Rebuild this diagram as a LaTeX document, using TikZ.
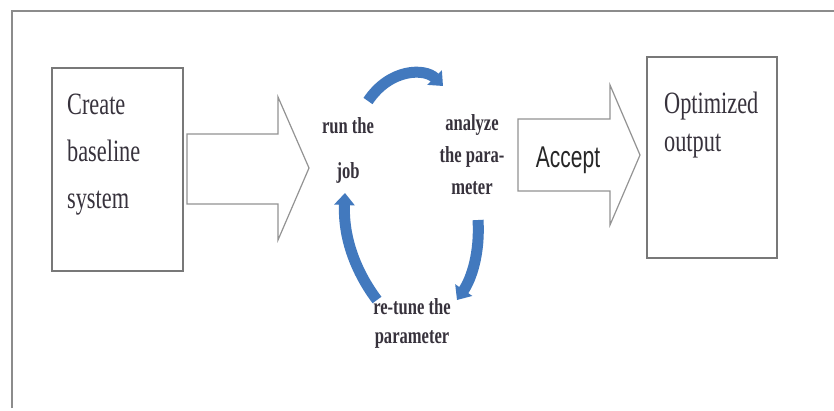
\documentclass[tikz,border=0pt]{standalone}
\usepackage{fontspec}
\setmainfont{Liberation Serif}
\newfontfamily\accfont{Liberation Sans}
\usetikzlibrary{arrows.meta}
\definecolor{framegray}{RGB}{140,140,140}
\definecolor{boxgray}{RGB}{120,120,120}
\definecolor{txtgray}{RGB}{55,50,60}
\definecolor{cycblue}{RGB}{66,121,190}
\tikzset{
  box/.style={draw=boxgray, line width=1.8pt, fill=white},
  hollowarrow/.style={draw=boxgray!80, line width=1.2pt, fill=white, line join=miter},
  bigtxt/.style={text=txtgray, font=\fontsize{31}{45}\selectfont, xscale=0.72, align=left, inner sep=0pt, anchor=north west},
  cyctxt/.style={text=txtgray, font=\fontsize{23}{32}\selectfont\bfseries, xscale=0.72, align=center, inner sep=0pt},
  cycarrow/.style={draw=cycblue, line width=11pt, -{Triangle[width=20pt,length=12pt]}}
}
\begin{document}
\begin{tikzpicture}[x=1pt,y=-1pt]
\useasboundingbox (0,0) rectangle (834,410);
\fill[white] (0,0) rectangle (834,410);
% outer frame
\draw[framegray, line width=2pt] (12,408) -- (12,11) -- (836,11);
% left box
\draw[box] (52,68) rectangle (183,271);
\node[bigtxt] (create) at (67,94) {Create\\[2pt]baseline\\[2pt]system};
% big hollow arrow
\draw[hollowarrow] (187,134) -- (278,134) -- (278,97) -- (309,168) -- (278,240) -- (278,204) -- (187,204) -- cycle;
% cycle texts
\node[cyctxt] (run) at (348,150) {run the\\[13pt]job};
\node[cyctxt] (analyze) at (472,155) {analyze\\[0pt]the para-\\[0pt]meter};
\node[cyctxt] (retune) at (412,323) {re-tune the\\[-3pt]parameter};
% cycle arrows
\coordinate (t1) at (368,101);
\coordinate (t2) at (443,86);
\coordinate (r1) at (478,220);
\coordinate (r2) at (457,300);
\coordinate (l1) at (377,300);
\coordinate (l2) at (345,193);
\draw[cycarrow] (t1) .. controls (390,68) and (425,68) .. (t2);
\draw[cycarrow] (r1) .. controls (480,252) and (472,278) .. (r2);
\draw[cycarrow] (l1) .. controls (356,272) and (343,238) .. (l2);
% accept arrow
\draw[hollowarrow] (518,119) -- (610,119) -- (610,85) -- (640,155) -- (610,225) -- (610,191) -- (518,191) -- cycle;
\node[text=black!85, font=\accfont\fontsize{30}{30}\selectfont, xscale=0.7, inner sep=0pt] (accept) at (568,160) {Accept};
% right box
\draw[box] (647,57) rectangle (777,258);
\node[bigtxt] (opt) at (664,92) {Optimized\\[-7pt]output};
\end{tikzpicture}
\end{document}
